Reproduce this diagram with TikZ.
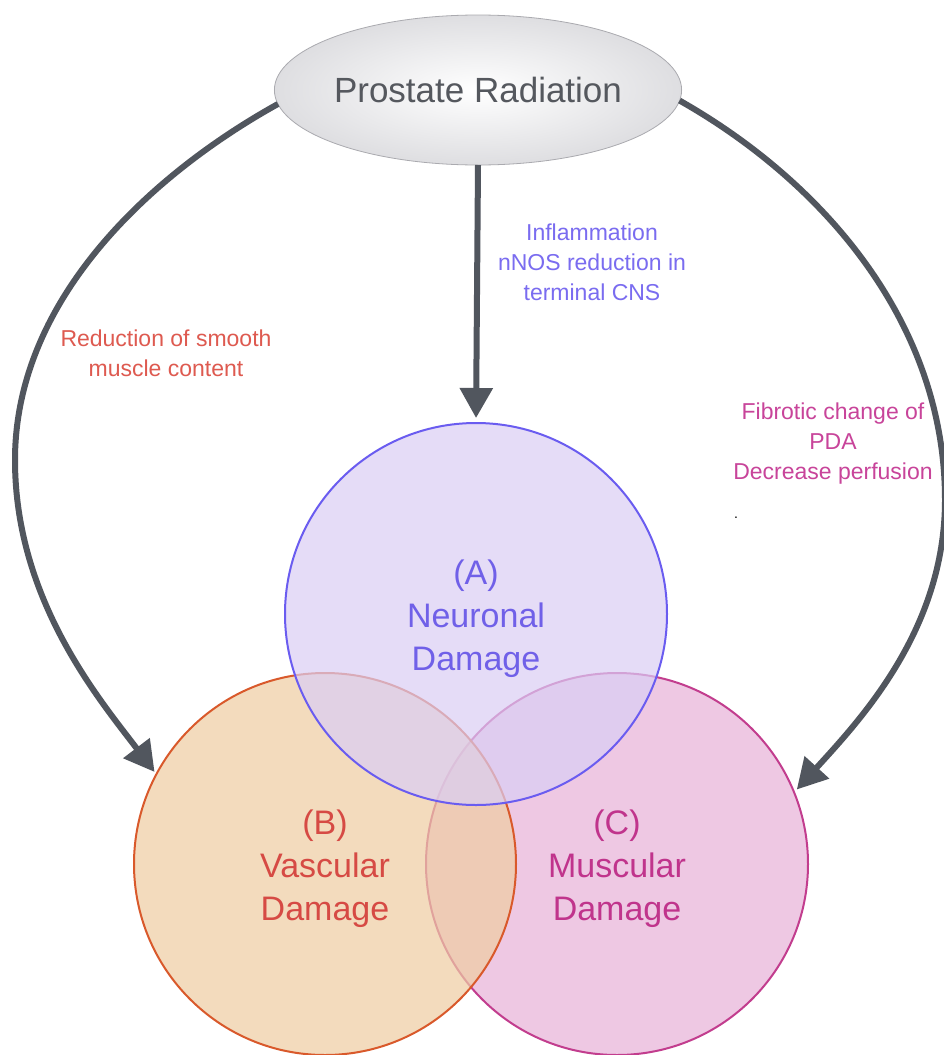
\documentclass[tikz,border=0pt]{standalone}
\usepackage{fontspec}
\setmainfont{Liberation Sans}
\usetikzlibrary{arrows.meta,shapes.geometric}
\definecolor{arrowgray}{RGB}{81,86,94}
\definecolor{ellborder}{RGB}{170,170,175}
\definecolor{ellouter}{RGB}{222,222,225}
\definecolor{elltext}{RGB}{85,88,94}
\definecolor{afill}{RGB}{218,206,245}
\definecolor{aline}{RGB}{106,92,240}
\definecolor{atext}{RGB}{112,96,232}
\definecolor{bfill}{RGB}{238,205,162}
\definecolor{bline}{RGB}{217,89,43}
\definecolor{btext}{RGB}{214,74,68}
\definecolor{cfill}{RGB}{231,178,216}
\definecolor{cline}{RGB}{194,61,142}
\definecolor{ctext}{RGB}{192,52,140}
\definecolor{lblred}{RGB}{222,90,80}
\definecolor{lblblue}{RGB}{122,108,240}
\definecolor{lblmag}{RGB}{200,68,154}
\tikzset{
  conn/.style={draw=arrowgray, line width=6pt, -{Triangle[width=32pt,length=30pt]}},
  venn/.style={circle, minimum size=382pt, inner sep=0pt, outer sep=0pt, line width=2pt, fill opacity=0.7},
  venntext/.style={align=center, font=\fontsize{34}{43}\selectfont},
  lbl/.style={align=center, font=\fontsize{23}{30}\selectfont}
}
\begin{document}
\begin{tikzpicture}[x=1pt,y=-1pt]
\useasboundingbox (0,0) rectangle (944,1055);
\fill[white] (0,0) rectangle (944,1055);
% circles
\node[venn, draw=cline, fill=cfill] (C) at (617,864) {};
\node[venn, draw=bline, fill=bfill] (B) at (325,864) {};
\node[venn, draw=aline, fill=afill] (A) at (476,614) {};
\node[venntext, text=atext] (At) at (476,619) {(A)\\Neuronal\\Damage};
\node[venntext, text=btext] (Bt) at (325,869) {(B)\\Vascular\\Damage};
\node[venntext, text=ctext] (Ct) at (617,869) {(C)\\Muscular\\Damage};
% top ellipse
\node[ellipse, minimum width=400pt, minimum height=150pt, inner sep=0pt, outer sep=0pt,
      draw=ellborder, line width=0.8pt, inner color=white, outer color=ellouter,
      font=\fontsize{35}{40}\selectfont, text=elltext] (rad) at (478,90) {Prostate Radiation};
% connectors
\draw[conn, shorten >=3pt] (rad.184) .. controls (150,175) and (15,300) .. (15,460)
      .. controls (15,600) and (100,700) .. (B.152);
\draw[conn, shorten >=4pt] (rad.-3) .. controls (820,180) and (945,320) .. (945,500)
      .. controls (945,630) and (860,720) .. (C.22);
\draw[conn, shorten >=5pt] (rad.south) -- (A.north);
% labels
\node[lbl, text=lblred] (l1) at (166,353) {Reduction of smooth\\muscle content};
\node[lbl, text=lblblue] (l2) at (592,262) {Inflammation\\nNOS reduction in\\terminal CNS};
\node[lbl, text=lblmag] (l3) at (833,444) {Fibrotic change of\\PDA\\Decrease perfusion};
\node[anchor=base, font=\fontsize{14}{14}\selectfont, text=black, inner sep=0pt] (dot) at (736,518) {.};
\end{tikzpicture}
\end{document}
